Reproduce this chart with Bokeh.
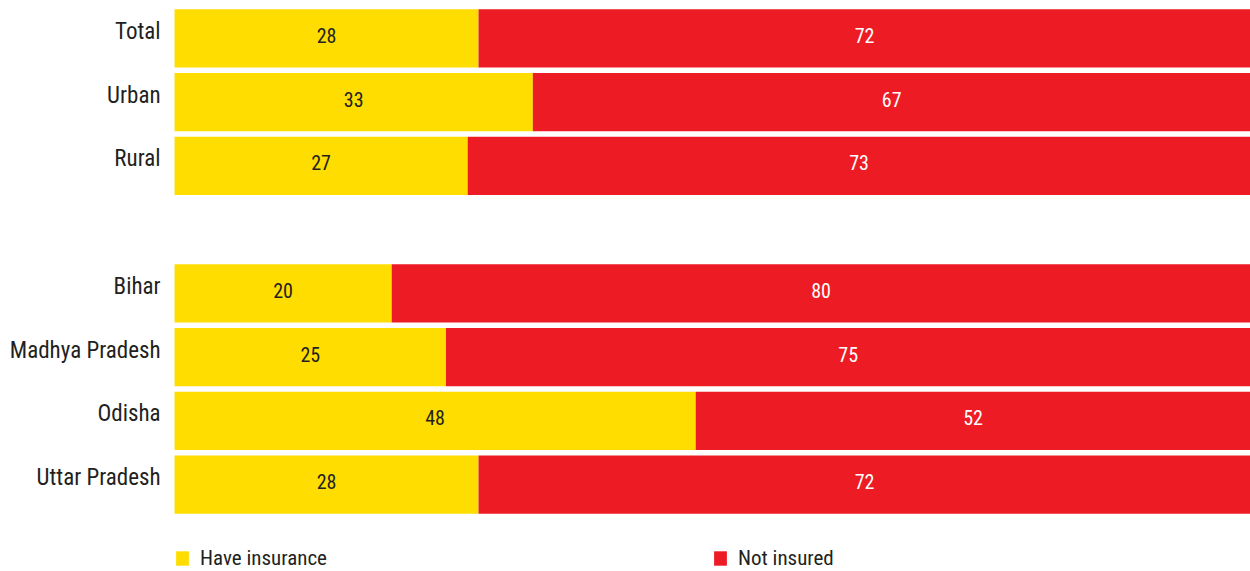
from bokeh.plotting import figure
from bokeh.layouts import column
from bokeh.models import FactorRange, Range1d, ColumnDataSource, Legend, LegendItem
from bokeh.core.properties import value
from bokeh.embed import file_html
from bokeh.resources import INLINE

# ---- data ----
categories = ["Total", "Urban", "Rural", " ", "Bihar", "Madhya Pradesh", "Odisha", "Uttar Pradesh"]
have_insurance = [28, 33, 27, None, 20, 25, 48, 28]
not_insured = [72, 67, 73, None, 80, 75, 52, 72]
series_names = ["Have insurance", "Not insured"]

YELLOW = "#FFDD00"
RED = "#ED1C24"
DARK = "#231F20"
FONT = "Roboto Condensed"
VISIBLE_END = 99.1     # right edge of the visible frame (bars run to 100 and are cropped)
LEFT_GUTTER = -16.03   # room on the left of the bars for the category labels

rows = [i for i, v in enumerate(have_insurance) if v is not None]
cats = [categories[i] for i in rows]
have = [have_insurance[i] for i in rows]
noti = [not_insured[i] for i in rows]

src = ColumnDataSource(dict(
    cat=cats,
    zero=[0] * len(cats),
    have=have,
    total=[h + n for h, n in zip(have, noti)],
    have_lbl=[str(h) for h in have],
    not_lbl=[str(n) for n in noti],
    have_mid=[h / 2 for h in have],
    not_mid=[(h + VISIBLE_END) / 2 for h in have],
))

p = figure(
    width=1250, height=516,
    y_range=FactorRange(factors=list(reversed(categories)), range_padding=0),
    x_range=Range1d(LEFT_GUTTER, VISIBLE_END),
    x_axis_type=None, y_axis_location=None,
    output_backend="svg", toolbar_location=None,
    min_border_left=0, min_border_right=0, min_border_top=6, min_border_bottom=0,
    outline_line_color=None,
)
p.grid.visible = False
p.background_fill_color = "white"
p.border_fill_color = "white"

p.hbar(y="cat", left="zero", right="have", height=0.91, source=src,
       fill_color=YELLOW, line_color=None)
p.hbar(y="cat", left="have", right="total", height=0.91, source=src,
       fill_color=RED, line_color=None)

# category labels, right-aligned just left of the bars
p.text(x="zero", y="cat", text="cat", source=src,
       text_align="right", text_baseline="middle", text_font=value(FONT),
       text_font_size="23px", text_color=DARK, x_offset=-14, y_offset=-7)

p.text(x="have_mid", y="cat", text="have_lbl", source=src,
       text_align="center", text_baseline="middle", text_font=value(FONT),
       text_font_size="20px", text_color=DARK, y_offset=-3)
p.text(x="not_mid", y="cat", text="not_lbl", source=src,
       text_align="center", text_baseline="middle", text_font=value(FONT),
       text_font_size="20px", text_color="white", y_offset=-3)

# ---- legend strip ----
leg = figure(
    width=1250, height=55,
    x_range=Range1d(0, 1), y_range=Range1d(0, 1),
    x_axis_type=None, y_axis_type=None,
    output_backend="svg", toolbar_location=None,
    min_border_left=0, min_border_right=0, min_border_top=0, min_border_bottom=0,
    outline_line_color=None,
)
leg.grid.visible = False
leg.background_fill_color = "white"
leg.border_fill_color = "white"
# zero-width bars: they only supply the legend swatches
lr1 = leg.hbar(y=[0.5], left=[0], right=[0], height=0.1, fill_color=YELLOW, line_color=None)
lr2 = leg.hbar(y=[0.5], left=[0], right=[0], height=0.1, fill_color=RED, line_color=None)

legend = Legend(
    items=[LegendItem(label=series_names[0], renderers=[lr1]),
           LegendItem(label=series_names[1], renderers=[lr2])],
    orientation="horizontal", location=(174, 1),
    glyph_width=16, glyph_height=18, label_standoff=10, label_width=512,
    spacing=0, padding=0, margin=0,
    border_line_color=None, background_fill_alpha=0,
    label_text_font=FONT, label_text_font_size="21px", label_text_color=DARK,
)
leg.add_layout(legend, "center")

layout = column(p, leg, spacing=0)
open("out.html", "w").write(file_html(layout, INLINE))
